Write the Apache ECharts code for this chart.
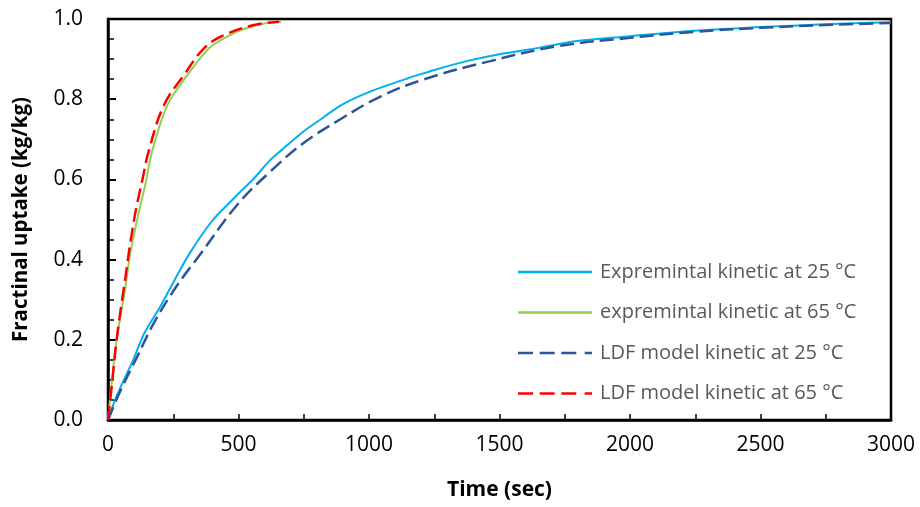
<!DOCTYPE html>
<html>
<head>
<meta charset="utf-8">
<script src="https://cdn.jsdelivr.net/npm/echarts@6/dist/echarts.min.js"></script>
<style>html,body{margin:0;padding:0;background:#fff;}#c{width:920px;height:507px;}</style>
</head>
<body>
<div id="c"></div>
<script>
// Series names
const seriesNames = ['Expremintal kinetic at 25 °C', 'expremintal kinetic at 65 °C', 'LDF model kinetic at 25 °C', 'LDF model kinetic at 65 °C'];

// Experimental 25 °C
const exp25Time = [0, 30, 61, 100, 138, 202, 256, 315, 397, 455, 493, 560, 621, 665, 748, 820, 895, 1004, 1139, 1170, 1250, 1374, 1500, 1650, 1797, 2000, 2245, 2500, 2643, 2800, 3000];
const exp25Val  = [0, 0.055, 0.10, 0.155, 0.215, 0.285, 0.35, 0.418, 0.495, 0.535, 0.56, 0.603, 0.648, 0.673, 0.719, 0.752, 0.786, 0.819, 0.85, 0.857, 0.873, 0.895, 0.912, 0.928, 0.945, 0.957, 0.971, 0.980, 0.984, 0.988, 0.992];

// Experimental 65 °C
const exp65Time = [0, 14, 33, 65, 84, 112, 144, 170, 228, 304, 387, 456, 520, 598, 663];
const exp65Val  = [0, 0.092, 0.2, 0.324, 0.41, 0.5, 0.59, 0.673, 0.786, 0.86, 0.927, 0.956, 0.975, 0.989, 0.993];

// LDF model 25 °C
const ldf25Time = [0, 49, 112, 176, 263, 350, 493, 621, 748, 895, 1042, 1208, 1464, 1720, 2000, 2245, 2500, 2750, 3000];
const ldf25Val  = [0, 0.075, 0.158, 0.242, 0.334, 0.41, 0.535, 0.619, 0.69, 0.752, 0.806, 0.849, 0.895, 0.932, 0.953, 0.968, 0.978, 0.985, 0.99];

// LDF model 65 °C
const ldf65Time = [0, 17, 33, 61, 100, 132, 157, 215, 291, 368, 445, 560, 656];
const ldf65Val  = [0, 0.1, 0.2, 0.33, 0.5, 0.6, 0.673, 0.786, 0.86, 0.927, 0.96, 0.985, 0.993];

function pairs(t, v) { return t.map((x, i) => [x, v[i]]); }

const SOLID_ICON = 'path://M0,0h74v2.5h-74z';
const DASH_ICON = 'path://M0,0h15v2.5h-15z M21.7,0h15v2.5h-15z M43.3,0h15v2.5h-15z M66.7,0h7.3v2.5h-7.3z';

const chart = echarts.init(document.getElementById('c'), null, {renderer: 'canvas'});
const FONT = 'Open Sans';
chart.setOption({
  animation: false,
  backgroundColor: '#fff',
  grid: {left: 108, right: 29, top: 19, bottom: 87, show: true, borderColor: '#000', borderWidth: 2.5, backgroundColor: 'transparent'},
  legend: {
    orient: 'vertical', left: 513, top: 257,
    itemWidth: 74, itemHeight: 2.5, itemGap: 20.5,
    textStyle: {fontFamily: FONT, fontSize: 20, color: '#595959', lineHeight: 20, padding: [0, 0, 0, 3]},
    data: [
      {name: seriesNames[0], icon: SOLID_ICON},
      {name: seriesNames[1], icon: SOLID_ICON},
      {name: seriesNames[2], icon: DASH_ICON},
      {name: seriesNames[3], icon: DASH_ICON}
    ]
  },
  xAxis: {
    type: 'value', min: 0, max: 3000, interval: 500,
    name: 'Time (sec)', nameLocation: 'middle', nameGap: 60,
    nameTextStyle: {fontFamily: FONT, fontSize: 21, fontWeight: 'bold', color: '#000'},
    axisLine: {show: true, lineStyle: {color: '#000', width: 2.5}},
    axisTick: {show: true, inside: true, length: 6, lineStyle: {color: '#000', width: 1.5}},
    minorTick: {show: true, splitNumber: 2, length: 6, lineStyle: {color: '#000', width: 1.5}},
    splitLine: {show: false},
    axisLabel: {fontFamily: FONT, fontSize: 21, color: '#000', margin: 15, formatter: v => String(v)}
  },
  yAxis: {
    type: 'value', min: 0, max: 1, interval: 0.2,
    name: 'Fractinal uptake (kg/kg)', nameLocation: 'middle', nameGap: 76, nameRotate: 90,
    nameTextStyle: {fontFamily: FONT, fontSize: 20.5, fontWeight: 'bold', color: '#000'},
    axisLine: {show: true, lineStyle: {color: '#000', width: 2.5}},
    axisTick: {show: true, inside: true, length: 8, lineStyle: {color: '#000', width: 2}},
    minorTick: {show: true, splitNumber: 4, length: 6, lineStyle: {color: '#000', width: 1.5}},
    splitLine: {show: false},
    axisLabel: {fontFamily: FONT, fontSize: 21, color: '#000', margin: 25, formatter: v => v.toFixed(1)}
  },
  series: [
    {name: seriesNames[0], type: 'line', showSymbol: false, symbol: 'none', smooth: 0.3, z: 2,
     data: pairs(exp25Time, exp25Val), lineStyle: {color: '#00B0F0', width: 2}, itemStyle: {color: '#00B0F0'}},
    {name: seriesNames[1], type: 'line', showSymbol: false, symbol: 'none', smooth: 0.3, z: 2,
     data: pairs(exp65Time, exp65Val), lineStyle: {color: '#92D050', width: 2}, itemStyle: {color: '#92D050'}},
    {name: seriesNames[2], type: 'line', showSymbol: false, symbol: 'none', smooth: 0.4, z: 3,
     data: pairs(ldf25Time, ldf25Val), lineStyle: {color: '#2F5597', width: 2.5, type: [14, 6]}, itemStyle: {color: '#2F5597'}},
    {name: seriesNames[3], type: 'line', showSymbol: false, symbol: 'none', smooth: 0.4, z: 3,
     data: pairs(ldf65Time, ldf65Val), lineStyle: {color: '#FF0000', width: 2.5, type: [14, 6]}, itemStyle: {color: '#FF0000'}}
  ]
});
</script>
</body>
</html>
